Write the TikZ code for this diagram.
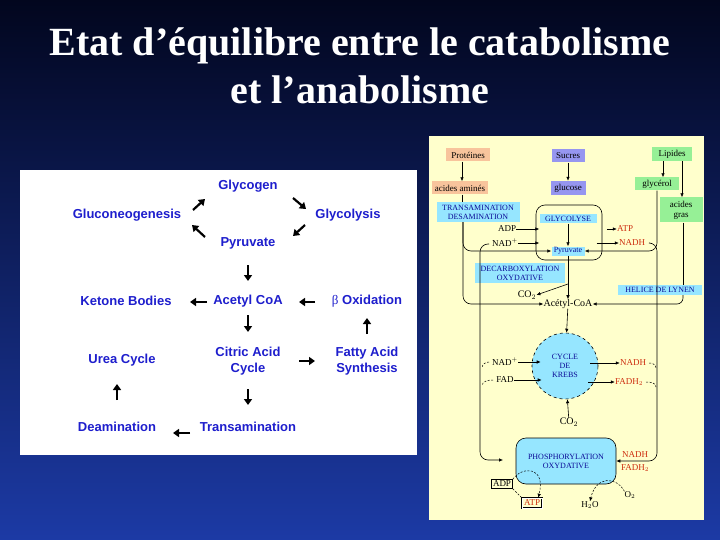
\documentclass[tikz,border=0pt]{standalone}
\usepackage{fontspec}
\setmainfont{Liberation Serif}
\newfontfamily\panelsans{Liberation Sans}
\usetikzlibrary{arrows.meta,positioning}

\definecolor{slidetop}{RGB}{2,6,30}
\definecolor{slidebot}{RGB}{28,58,165}
\definecolor{molblue}{RGB}{30,30,205}
\definecolor{paleyellow}{RGB}{255,255,204}
\definecolor{protcol}{RGB}{248,196,156}
\definecolor{sugarcol}{RGB}{150,150,240}
\definecolor{lipidcol}{RGB}{150,240,150}
\definecolor{enzcyan}{RGB}{150,230,255}
\definecolor{capsblue}{RGB}{10,10,150}
\definecolor{cofred}{RGB}{205,45,15}

\begin{document}
\begin{tikzpicture}
  [x=1pt,y=-1pt,
   title/.style={anchor=base,text=white,font=\bfseries\fontsize{40}{44}\selectfont},
   mol/.style={font=\panelsans\bfseries\fontsize{13}{16}\selectfont,text=molblue,inner sep=0pt,align=center},
   flow/.style={-{Triangle[width=8pt,length=6pt]},line width=2.2pt},
   lbl/.style={font=\fontsize{9}{10}\selectfont,inner sep=0pt},
   biglbl/.style={font=\fontsize{10}{11}\selectfont,inner sep=0pt},
   srcbox/.style={lbl,inner sep=1pt,minimum height=13pt,align=center},
   capsbox/.style={fill=enzcyan,text=capsblue,font=\fontsize{8}{9}\selectfont,inner sep=1pt,align=center},
   thinline/.style={line width=0.6pt},
   rarr/.style={thinline,-{Latex[length=4pt,width=3.5pt]}},
   dashfine/.style={line width=0.5pt,dash pattern=on 2pt off 1.5pt}]

  \useasboundingbox (0,0) rectangle (720,540);
  \fill[top color=slidetop,bottom color=slidebot] (0,0) rectangle (720,540);

  \node[title] (titleA) at (360,56) {Etat d’équilibre entre le catabolisme};
  \node[title] (titleB) at (360,104) {et l’anabolisme};

  % left panel
  \fill[white] (20,170) rectangle (417,455);

  \node[mol] (glycogen)   at (248,186) {Glycogen};
  \node[mol] (gluconeo)   at (127,215) {Gluconeogenesis};
  \node[mol] (glycolysis) at (348,215) {Glycolysis};
  \node[mol] (pyruvate)   at (248,243) {Pyruvate};
  \node[mol] (ketone)     at (126,301) {Ketone Bodies};
  \node[mol] (acetyl)     at (248,301) {Acetyl CoA};
  \node[mol] (betaox)     at (367,301) {{\rmfamily\mdseries β} Oxidation};
  \node[mol] (urea)       at (122,360) {Urea Cycle};
  \node[mol] (citric)     at (248,361) {Citric Acid\\Cycle};
  \node[mol] (fatty)      at (367,361) {Fatty Acid\\Synthesis};
  \node[mol] (deam)       at (117,427) {Deamination};
  \node[mol] (transamL)   at (248,427) {Transamination};

  \draw[flow] ([shift={(66,-5)}]gluconeo.center) -- ([shift={(-43,13)}]glycogen.center);
  \draw[flow] ([shift={(45,12)}]glycogen.center) -- ([shift={(-42,-6)}]glycolysis.center);
  \draw[flow] ([shift={(-43,10)}]glycolysis.center) -- ([shift={(45,-7)}]pyruvate.center);
  \draw[flow] ([shift={(-43,-6)}]pyruvate.center) -- ([shift={(65,10)}]gluconeo.center);
  \draw[flow] ([shift={(0,22)}]pyruvate.center) -- ([shift={(0,-20)}]acetyl.center);
  \draw[flow] ([shift={(-41,1)}]acetyl.center) -- ([shift={(64,1)}]ketone.center);
  \draw[flow] ([shift={(-52,1)}]betaox.center) -- ([shift={(51,1)}]acetyl.center);
  \draw[flow] ([shift={(0,14)}]acetyl.center) -- ([shift={(0,-29)}]citric.center);
  \draw[flow] ([shift={(0,-27)}]fatty.center) -- ([shift={(0,17)}]betaox.center);
  \draw[flow] ([shift={(51,0)}]citric.center) -- ([shift={(-52,0)}]fatty.center);
  \draw[flow] ([shift={(0,28)}]citric.center) -- ([shift={(0,-22)}]transamL.center);
  \draw[flow] ([shift={(-58,6)}]transamL.center) -- ([shift={(56,6)}]deam.center);
  \draw[flow] ([shift={(0,-27)}]deam.center) -- ([shift={(-5,24)}]urea.center);

  % right panel
  \fill[paleyellow] (429,136) rectangle (704,520);

  \node[srcbox,fill=protcol,minimum width=44pt]  (prot)     at (468,155) {Protéines};
  \node[srcbox,fill=sugarcol,minimum width=33pt] (sucres)   at (568,156) {Sucres};
  \node[srcbox,fill=lipidcol,minimum width=40pt,minimum height=14pt] (lipides) at (672,154) {Lipides};
  \node[srcbox,fill=protcol,minimum width=56pt]  (aa)       at (460,188) {acides aminés};
  \node[srcbox,fill=sugarcol,minimum width=35pt,minimum height=14pt] (glucose) at (568,188) {glucose};
  \node[srcbox,fill=lipidcol,minimum width=44pt] (glycerol) at (657,184) {glycérol};
  \node[srcbox,fill=lipidcol,minimum width=43pt,minimum height=25pt] (agras) at (681,210) {acides\\gras};

  \node[capsbox,minimum width=83pt,minimum height=20pt] (transam)   at (478,212) {TRANSAMINATION\\DESAMINATION};
  \node[capsbox,minimum width=57pt,minimum height=9pt]  (glycolyse) at (568,219) {GLYCOLYSE};
  \node[capsbox,minimum width=33pt,minimum height=9pt]  (pyr)       at (568,251) {Pyruvate};
  \node[capsbox,minimum width=90pt,minimum height=20pt] (decarb)    at (520,273) {DECARBOXYLATION\\OXYDATIVE};
  \node[capsbox,minimum width=84pt,minimum height=10pt] (lynen)     at (660,290) {HELICE DE LYNEN};
  \node[capsbox,circle,draw=black,dashed,thinline,minimum size=66pt,inner sep=0pt] (krebs) at (565,366) {CYCLE\\DE\\KREBS};
  \node[capsbox,draw=black,thinline,rounded corners=10pt,minimum width=100pt,minimum height=46pt] (phos) at (566,461) {PHOSPHORYLATION\\OXYDATIVE};

  \node[lbl]             (adp1)  at (507,229) {ADP};
  \node[lbl]             (nad1)  at (505,243) {NAD$^+$};
  \node[lbl,text=cofred] (atp1)  at (625,229) {ATP};
  \node[lbl,text=cofred] (nadh1) at (632,243) {NADH};
  \node[biglbl]          (co2a)  at (527,295) {CO$_2$};
  \node[biglbl]          (acoa)  at (568,304) {Acétyl-CoA};
  \node[lbl]             (nad2)  at (505,362) {NAD$^+$};
  \node[lbl]             (fad)   at (505,380) {FAD};
  \node[lbl,text=cofred] (nadh2) at (633,363) {NADH};
  \node[lbl,text=cofred] (fadh2) at (629,382) {FADH$_2$};
  \node[biglbl]          (co2b)  at (569,422) {CO$_2$};
  \node[lbl,text=cofred] (nadh3) at (635,455) {NADH};
  \node[lbl,text=cofred] (fadh3) at (635,468) {FADH$_2$};
  \node[lbl,draw,thinline,inner sep=1.5pt] (adp2) at (502,484) {ADP};
  \node[lbl,draw,double,thinline,text=cofred,inner sep=2pt] (atp2) at (532,503) {ATP};
  \node[lbl]             (h2o)   at (590,505) {H$_2$O};
  \node[lbl]             (o2)    at (630,495) {O$_2$};

  \coordinate (nadret)   at (489,244);
  \coordinate (nadhret)  at (650,243);
  \coordinate (decarbpt) at (568,284);
  \coordinate (phosin)   at (503,460);

  \draw[thinline,rounded corners=9pt] (536,205) rectangle (602,260);

  \draw[rarr] ([xshift=-6pt]prot.south) -- ([xshift=2pt]aa.north);
  \draw[thinline] ([xshift=2pt]aa.south) -- ([xshift=2pt]aa.south |- transam.north);
  \draw[rarr] (sucres) -- (glucose);
  \draw[rarr] ([xshift=-9pt]lipides.south) -- ([xshift=6pt]glycerol.north);
  \draw[rarr] ([xshift=10pt]lipides.south) -- ([xshift=1pt]agras.north);
  \draw[thinline] ([xshift=2pt]agras.south) -- ([xshift=2pt]agras.south |- lynen.north);
  \draw[rarr,rounded corners=6pt] ([xshift=23pt]lynen.south) |- (acoa.east);

  \draw[rarr] (adp1) -- (adp1 -| glycolyse.west);
  \draw[rarr] (nad1) -- (nad1 -| glycolyse.west);
  \draw[rarr] (glycolyse) -- (pyr);
  \draw[rarr] ([xshift=-10pt]atp1.west) -- (atp1.west);
  \draw[rarr] (nadh1 -| glycolyse.east) -- (nadh1);

  \draw[rarr,rounded corners=8pt] ([xshift=-15pt]transam.south) |- (pyr.west);
  \draw[rarr,rounded corners=8pt] ([xshift=-15pt]transam.south) |- (acoa.west);
  \draw[rarr,rounded corners=8pt] (glycerol.south) |- (pyr.east);
  \draw[rarr,rounded corners=8pt] (nadret) -| (480,460) -- (phosin);
  \draw[rarr,rounded corners=8pt] (nadhret) -| (657,461) -- (phos.east);

  \draw[rarr] (pyr) -- (acoa);
  \draw[rarr] (decarbpt) -- (co2a.east);
  \draw[rarr] (acoa) -- (krebs);
  \draw[rarr] (nad2) -- ([xshift=9pt]nad2 -| krebs.west);
  \draw[rarr] (fad) -- ([xshift=10pt]fad -| krebs.west);
  \draw[rarr] ([xshift=-8pt]nadh2 -| krebs.east) -- (nadh2);
  \draw[rarr] ([xshift=-10pt]fadh2 -| krebs.east) -- (fadh2);
  \draw[rarr] (co2b) -- (krebs);

  \draw[dashfine] ([xshift=-3pt]nad2.west) to[out=180,in=90] (482,368);
  \draw[dashfine] ([xshift=-3pt]fad.west) to[out=180,in=90] (482,386);
  \draw[dashfine] ([xshift=3pt]nadh2.east) to[out=0,in=90] (656,368);
  \draw[dashfine] ([xshift=3pt]fadh2.east) to[out=0,in=90] (656,387);

  \draw[dashfine,-{Latex[length=4pt,width=3.5pt]}] (adp2.north east) .. controls (522,466) and (546,466) .. ([xshift=-4pt]atp2.north east);
  \draw[dashfine] (adp2.south east) -- (atp2.north west);
  \draw[dashfine,-{Latex[length=4pt,width=3.5pt]}] (o2.north west) .. controls (616,476) and (596,476) .. (h2o.north);
\end{tikzpicture}
\end{document}
